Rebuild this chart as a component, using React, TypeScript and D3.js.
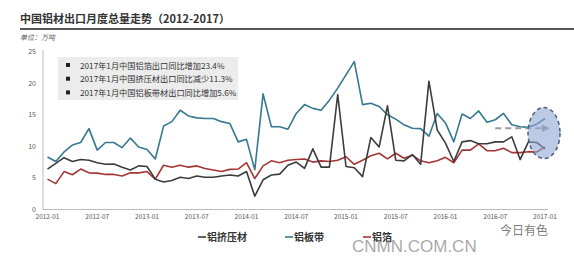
import React from "react";
import * as d3 from "d3";

const months: string[] = [];
for (let y = 2012; y <= 2017; y++) for (let m = 1; m <= 12; m++) if (months.length < 61) months.push(`${y}-${String(m).padStart(2, "0")}`);

const xTickLabels = ["2012-01","2012-07","2013-01","2013-07","2014-01","2014-07","2015-01","2015-07","2016-01","2016-07","2017-01"];
const yTicks = [0, 5, 10, 15, 20, 25];

const extrusion = [6.4,7.3,8.2,7.6,7.9,7.8,7.4,7.15,7.2,6.7,6.25,6.9,6.8,4.8,4.35,4.6,5.1,4.9,5.3,5.1,5.1,5.3,5.45,5.3,6.0,2.1,4.7,5.45,5.6,7.0,7.5,6.5,9.6,6.7,6.7,18.2,6.8,6.6,5.2,11.4,9.9,16.4,7.8,7.7,8.7,7.15,20.3,12.6,10.5,7.6,10.7,10.9,10.4,10.4,10.7,10.7,11.5,7.9,10.7,10.6,9.6];
const sheet = [8.3,7.6,9.1,10.2,10.6,12.8,9.4,10.6,10.6,9.8,11.3,9.9,9.5,8.0,13.2,13.9,15.7,14.8,14.5,14.4,14.4,13.9,13.6,10.7,11.1,6.3,18.3,13.1,13.1,12.7,15.2,16.6,16.0,15.7,17.3,19.2,21.3,23.4,16.6,16.8,16.3,15.0,14.3,13.4,12.85,12.8,11.6,15.2,13.7,10.7,15.1,14.4,15.6,13.8,14.2,15.2,13.4,13.1,13.0,13.5,14.4];
const foil = [4.8,4.1,6.0,5.5,6.4,5.8,5.75,5.55,5.55,5.3,5.8,5.8,6.0,4.8,7.0,6.7,7.0,6.7,6.9,6.5,6.25,6.0,6.35,6.4,7.4,4.9,6.9,7.7,7.4,7.8,7.9,8.0,7.5,7.7,7.6,7.8,8.35,7.15,7.8,8.5,8.9,8.0,8.9,8.1,8.6,7.7,7.4,7.7,8.25,7.4,9.4,9.4,10.4,9.3,9.3,9.7,9.0,9.0,9.15,9.1,9.9];

const notes = [
  "2017年1月中国铝箔出口同比增加23.4%",
  "2017年1月中国挤压材出口同比减少11.3%",
  "2017年1月中国铝板带材出口同比增加5.6%",
];

const seriesNames = ["铝挤压材", "铝板带", "铝箔"];
const colors = ["#3c3c3c", "#347891", "#a53535"];
const trendFromMonth = "2016-07";
const trendValue = 12.85;

const FONT = "'Noto Sans CJK SC', 'Noto Sans', sans-serif";

export default function App() {
  const W = 574, H = 267;
  const x = d3.scaleLinear().domain([0, 60]).range([47.5, 545]);
  const y = d3.scaleLinear().domain([0, 25]).range([209.5, 51.5]);
  const line = d3.line<number>().x((_, i) => x(i)).y((d) => y(d));
  const data = [foil, sheet, extrusion];
  const dataColors = [colors[2], colors[1], colors[0]];
  const tIdx = months.indexOf(trendFromMonth);
  const endIdx = months.length - 1;

  return (
    <svg width={W} height={H} style={{ position: "absolute", left: 0, top: 0, background: "#fff" }} fontFamily={FONT}>
      <defs>
        <marker id="arr" viewBox="0 0 10 10" refX="8" refY="5" markerWidth="4" markerHeight="4" orient="auto">
          <path d="M0,0 L10,5 L0,10 z" fill="#9a9aa4" />
        </marker>
      </defs>
      <text x={20} y={22.5} fontSize={11} fontWeight="bold" fill="#333">中国铝材出口月度总量走势（2012-2017）</text>
      <line x1={20} x2={574} y1={29} y2={29} stroke="#555" strokeWidth={2} />
      <text x={20} y={40} fontSize={7} fontStyle="italic" fill="#555">单位：万吨</text>

      {/* axes */}
      <line x1={43} x2={43} y1={50} y2={209.5} stroke="#bbb" strokeWidth={1} />
      <line x1={43} x2={548} y1={209.5} y2={209.5} stroke="#bbb" strokeWidth={1} />
      {yTicks.map((t) => (
        <text key={t} x={36} y={y(t) + 2.5} fontSize={7} fill="#555" textAnchor="end">{t}</text>
      ))}
      {xTickLabels.map((l) => (
        <text key={l} x={x(months.indexOf(l))} y={219} fontSize={6.5} fill="#555" textAnchor="middle">{l}</text>
      ))}

      {/* notes box */}
      <rect x={58} y={57} width={180} height={43} fill="#ececec" />
      {notes.map((n, i) => (
        <g key={n}>
          <rect x={66} y={63 + i * 13.7} width={4} height={4} fill="#222" />
          <text x={80} y={68.5 + i * 13.7} fontSize={8.2} fill="#333">{n}</text>
        </g>
      ))}

      {/* lines */}
      {data.map((d, k) => (
        <path key={k} d={line(d) || ""} fill="none" stroke={dataColors[k]} strokeWidth={1.6} strokeLinejoin="round" />
      ))}

      {/* trend arrow & ellipse */}
      <line x1={x(tIdx)} x2={x(endIdx) + 3} y1={y(trendValue)} y2={y(trendValue)} stroke="#9a9aa4" strokeWidth={2} strokeDasharray="6 4" markerEnd="url(#arr)" />
      <ellipse cx={x(endIdx) - 1} cy={y(12.1)} rx={16} ry={25.5} fill="#8fa9d3" fillOpacity={0.6} stroke="#4b5d7e" strokeWidth={1.5} strokeDasharray="4 3" />

      {/* legend */}
      {[{ n: seriesNames[0], c: colors[0], x0: 198 }, { n: seriesNames[1], c: colors[1], x0: 285 }, { n: seriesNames[2], c: colors[2], x0: 363 }].map((it) => (
        <g key={it.n}>
          <line x1={it.x0} x2={it.x0 + 8} y1={237} y2={237} stroke={it.c} strokeWidth={1.6} />
          <text x={it.x0 + 9} y={240.5} fontSize={10} fontWeight="bold" fill="#333">{it.n}</text>
        </g>
      ))}

      {/* watermarks */}
      <text x={352} y={252} fontSize={17} fill="#8a8a8a" fillOpacity={0.75} fontFamily="'Liberation Sans', Arial, sans-serif">CNMN.COM.CN</text>
      <text x={500} y={235} fontSize={12} fill="#555" fillOpacity={0.8}>今日有色</text>
    </svg>
  );
}
